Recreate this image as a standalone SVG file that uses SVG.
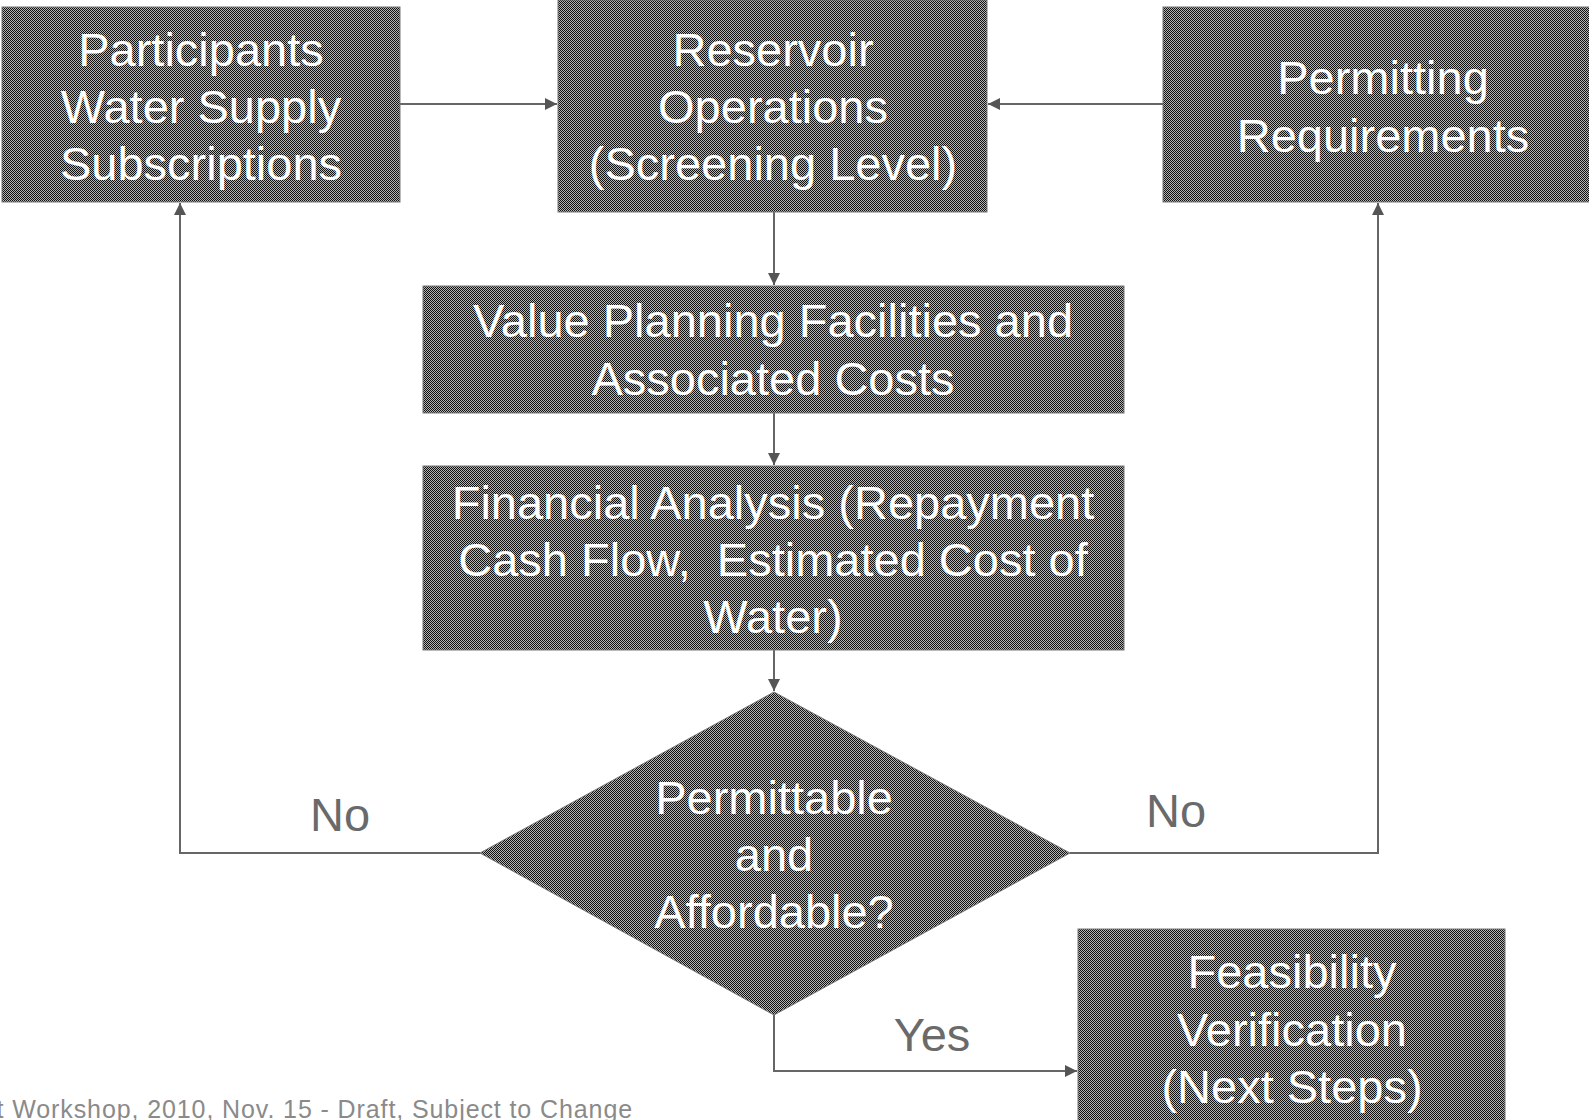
<svg xmlns="http://www.w3.org/2000/svg" width="1589" height="1120" viewBox="0 0 1589 1120">
<defs>
<pattern id="dither" patternUnits="userSpaceOnUse" width="2" height="2">
<rect width="2" height="2" fill="#b4b4b4"/>
<rect x="0" y="0" width="1" height="1" fill="#111"/>
<rect x="1" y="1" width="1" height="1" fill="#111"/>
</pattern>
<marker id="arrow" viewBox="0 0 10 10" refX="10" refY="5" markerWidth="6" markerHeight="6" markerUnits="strokeWidth" orient="auto">
<path d="M0,0 L10,5 L0,10 z" fill="#555"/>
</marker>
<style>
.box { fill: url(#dither); stroke: #777; stroke-width: 1; }
.t { font-family: "Liberation Sans", Arial, sans-serif; font-size: 47px; fill: #ffffff; text-anchor: middle; }
.lbl { font-family: "Liberation Sans", Arial, sans-serif; font-size: 47px; fill: #6a6a6a; text-anchor: middle; }
.conn { fill: none; stroke: #666; stroke-width: 2; marker-end: url(#arrow); }
.foot { font-family: "Liberation Sans", Arial, sans-serif; font-size: 25px; fill: #8a8a8a; letter-spacing: 0.9px; }
</style>
</defs>

<g id="connectors">
<path class="conn" d="M400,104 L557,104"/>
<path class="conn" d="M1163,104 L988,104"/>
<path class="conn" d="M774,212 L774,285"/>
<path class="conn" d="M774,413 L774,465"/>
<path class="conn" d="M774,650 L774,691"/>
<path class="conn" d="M480,853 L180,853 L180,203"/>
<path class="conn" d="M1070,853 L1378,853 L1378,203"/>
<path class="conn" d="M774,1015 L774,1071 L1077,1071"/>
</g>

<g id="node-participants">
<rect class="box" x="2" y="7" width="398" height="195"/>
<text class="t" x="201" y="66">Participants</text>
<text class="t" x="201" y="123">Water Supply</text>
<text class="t" x="201" y="180">Subscriptions</text>
</g>

<g id="node-reservoir">
<rect class="box" x="558" y="0" width="429" height="212"/>
<text class="t" x="773" y="66">Reservoir</text>
<text class="t" x="773" y="123">Operations</text>
<text class="t" x="773" y="180">(Screening Level)</text>
</g>

<g id="node-permitting">
<rect class="box" x="1163" y="7" width="430" height="195"/>
<text class="t" x="1383" y="94">Permitting</text>
<text class="t" x="1383" y="152">Requirements</text>
</g>

<g id="node-value">
<rect class="box" x="423" y="286" width="701" height="127"/>
<text class="t" x="773" y="337">Value Planning Facilities and</text>
<text class="t" x="773" y="395">Associated Costs</text>
</g>

<g id="node-financial">
<rect class="box" x="423" y="466" width="701" height="184"/>
<text class="t" x="773" y="519">Financial Analysis (Repayment</text>
<text class="t" x="773" y="576" xml:space="preserve">Cash Flow,  Estimated Cost of</text>
<text class="t" x="773" y="633">Water)</text>
</g>

<g id="node-decision">
<polygon class="box" points="774,692 1070,853 774,1015 480,853"/>
<text class="t" x="774" y="814">Permittable</text>
<text class="t" x="774" y="871">and</text>
<text class="t" x="774" y="928">Affordable?</text>
</g>

<g id="node-feasibility">
<rect class="box" x="1078" y="929" width="427" height="200"/>
<text class="t" x="1292" y="988">Feasibility</text>
<text class="t" x="1292" y="1046">Verification</text>
<text class="t" x="1292" y="1103">(Next Steps)</text>
</g>

<g id="labels">
<text class="lbl" x="340" y="831">No</text>
<text class="lbl" x="1176" y="827">No</text>
<text class="lbl" x="932" y="1051">Yes</text>
</g>

<text class="foot" x="633" y="1118" text-anchor="end">t Workshop, 2010, Nov. 15 - Draft, Subject to Change</text>
</svg>
